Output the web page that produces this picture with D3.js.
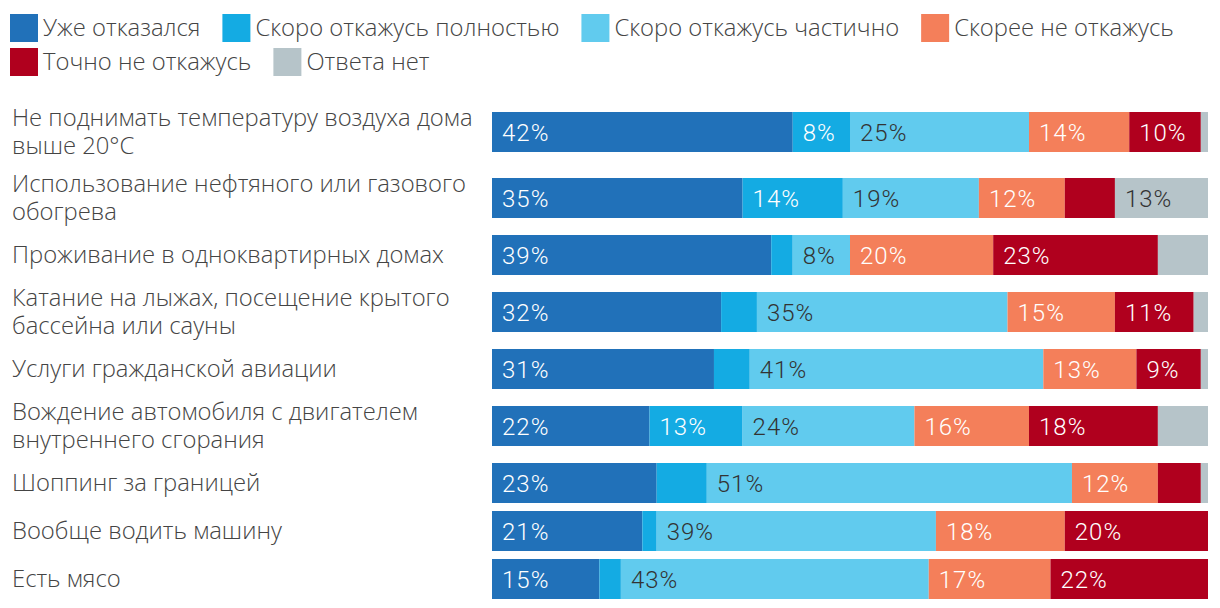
<!DOCTYPE html>
<html>
<head>
<meta charset="utf-8">
<script src="https://cdn.jsdelivr.net/npm/d3@7"></script>
<style>
  html, body { margin: 0; padding: 0; background: #fff; }
  #wrap { position: relative; width: 1220px; height: 608px; }
  svg { display: block; position: absolute; left: 0; top: 0; }
  .rowlabel { position: absolute; left: 12px; white-space: pre; line-height: 28px;
    font-family: 'Open Sans', sans-serif; font-weight: 300; font-size: 23.8px; color: #444; }
</style>
</head>
<body>
<div id="wrap"><svg id="chart" width="1220" height="608"></svg></div>
<script>
const categories = [
  "Не поднимать температуру воздуха дома\nвыше 20°C",
  "Использование нефтяного или газового\nобогрева",
  "Проживание в одноквартирных домах",
  "Катание на лыжах, посещение крытого\nбассейна или сауны",
  "Услуги гражданской авиации",
  "Вождение автомобиля с двигателем\nвнутреннего сгорания",
  "Шоппинг за границей",
  "Вообще водить машину",
  "Есть мясо"
];
const seriesNames = ["Уже отказался", "Скоро откажусь полностью", "Скоро откажусь частично", "Скорее не откажусь", "Точно не откажусь", "Ответа нет"];
const alreadyQuit   = [42, 35, 39, 32, 31, 22, 23, 21, 15];
const quitFully     = [8, 14, 3, 5, 5, 13, 7, 2, 3];
const quitPartly    = [25, 19, 8, 35, 41, 24, 51, 39, 43];
const ratherNot     = [14, 12, 20, 15, 13, 16, 12, 18, 17];
const definitelyNot = [10, 7, 23, 11, 9, 18, 6, 20, 22];
const noAnswer      = [1, 13, 7, 2, 1, 7, 1, 0, 0];
const seriesColors = ["#2171b9", "#14abe3", "#61cbee", "#f47f5a", "#b0001e", "#b6c4c9"];
const labelColors  = ["#ffffff", "#ffffff", "#333333", "#ffffff", "#ffffff", "#333333"];

const seriesValues = [alreadyQuit, quitFully, quitPartly, ratherNot, definitelyNot, noAnswer];
const svg = d3.select("#chart");
const wrap = d3.select("#wrap");

const textFont = "'Open Sans', sans-serif";
const numFont = "Roboto, sans-serif";
const textSize = 23.8;

// Legend
const legendRows = [[0, 1, 2, 3], [4, 5]];
legendRows.forEach((row, ri) => {
  let x = 10;
  const y = 14 + ri * 34;
  row.forEach(si => {
    const g = svg.append("g");
    g.append("rect").attr("x", x).attr("y", y).attr("width", 28).attr("height", 28).attr("fill", seriesColors[si]);
    const t = g.append("text").attr("x", x + 33).attr("y", y + 14).attr("dy", "0.35em")
      .attr("font-family", textFont).attr("font-weight", 300).attr("font-size", textSize)
      .attr("fill", "#444").text(seriesNames[si]);
    x += 33 + t.node().getComputedTextLength() + 22;
  });
});

// Row layout from label line counts
const lines = categories.map(c => c.split("\n"));
const rowH = lines.map(l => l.length > 1 ? 66 : 48);
let acc = 99;
const centers = rowH.map(h => { const c = acc + h / 2; acc += h; return c; });

const x = d3.scaleLinear().domain([0, 100]).range([492, 1208]);
const barH = 40;
const lineH = 28;

// Row labels (HTML, line-height 28px)
wrap.selectAll("div.rowlabel").data(categories).join("div")
  .attr("class", "rowlabel")
  .style("top", (d, i) => (centers[i] - lines[i].length * lineH / 2 - 1) + "px")
  .text(d => d);

// Stacked data
const stacked = categories.map((c, i) => {
  let s = 0;
  return seriesValues.map((arr, si) => {
    const v = arr[i];
    const d = { row: i, si, v, x0: s, x1: s + v };
    s += v;
    return d;
  });
});

const rows = svg.selectAll("g.row").data(stacked).join("g").attr("class", "row");
rows.selectAll("rect").data(d => d.filter(e => e.v > 0)).join("rect")
  .attr("x", d => x(d.x0))
  .attr("y", d => centers[d.row] - barH / 2)
  .attr("width", d => x(d.x1) - x(d.x0))
  .attr("height", barH)
  .attr("fill", d => seriesColors[d.si]);

rows.selectAll("text").data(d => d.filter(e => e.v >= 8)).join("text")
  .attr("x", d => x(d.x0) + 10)
  .attr("y", d => centers[d.row])
  .attr("dy", "0.36em")
  .attr("font-family", numFont).attr("font-weight", 300).attr("font-size", 24)
  .attr("letter-spacing", 1)
  .attr("fill", d => labelColors[d.si])
  .text(d => d.v + "%");
</script>
</body>
</html>
